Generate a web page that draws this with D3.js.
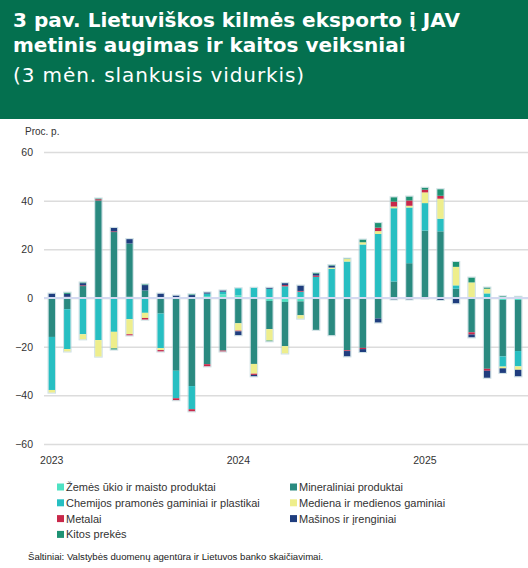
<!DOCTYPE html>
<html>
<head>
<meta charset="utf-8">
<script src="https://cdn.jsdelivr.net/npm/d3@7"></script>
<style>
  body { margin: 0; background: #fff; }
  svg { display: block; }
</style>
</head>
<body>
<div id="chart-area"></div>
<script>
/* Chart data (pp contributions, 3-month moving average) */
var months = ["2023-01","2023-02","2023-03","2023-04","2023-05","2023-06","2023-07","2023-08","2023-09","2023-10","2023-11","2023-12",
  "2024-01","2024-02","2024-03","2024-04","2024-05","2024-06","2024-07","2024-08","2024-09","2024-10","2024-11","2024-12",
  "2025-01","2025-02","2025-03","2025-04","2025-05","2025-06","2025-07"];

var zemes    = [0, 0, 0, 0, 0, 0.5, 0, 0.4, 0, 0, 0.8, 1.5, 1.1, 0, -1.2, -1.6, -1.4, 0, 0, 0, 0, 0, 0, 0, 0, 0, 0, 0.3, 0, -0.8, -0.8];
var mineral  = [-16, -4.6, 4.9, 40.1, 27.1, 21.9, 3.1, -6.4, -29.9, -36.2, -27.2, -21.6, -10.4, -27.1, -11.6, -18.2, -5.7, -13.1, -15.3, -21.5, -20.5, -8.4, 6.8, 14.3, 27.7, 27.4, 3.8, -14.1, -29.1, -23.2, -21];
var chemija  = [-21.8, -16.4, -14.9, -17.3, -13.9, -8.7, -6.1, -14.2, -11.3, -9.5, 1.0, 1.1, 2.9, 4.2, 3.8, 4.8, 2.6, 8.7, 12, 15.0, 22, 26.3, 30.1, 22.9, 11.3, 5.2, 1.4, 0, 1.9, -4.2, -6.3];
var mediena  = [-1.1, -1.0, -2.1, -6.8, -6.8, -6.2, -2.1, -0.8, 0, 0, 0, 0, -3.0, -4.0, -4.7, -3.0, -1.4, 0, 0.5, 1.0, 0.9, 1.2, 0.7, 0.7, 4.4, 8.2, 7.6, 6.1, 1.9, -0.7, -1.4];
var metalai  = [0.3, 0.5, 0.3, 0.5, 0.3, -0.5, -0.7, -0.6, -0.8, -0.9, -0.9, -0.4, -0.3, -0.5, 0, 0.5, 0.3, 0.5, 0, -0.3, -0.5, 1.4, 2.0, 2.2, 1.1, 1.2, 0, -0.9, -0.8, 0, 0];
var masinos  = [1.5, 1.2, 0.9, 0, 1.4, 1.8, 2.2, 1.4, 1.0, 1.2, 0.5, 0.5, -1.6, -0.6, 0.4, 0.8, 2.2, 0.8, 0.8, -2.2, -1.2, -1.7, -0.6, -0.6, -0.2, -0.8, -2.2, -1.2, -2.9, -1.9, -2.7];
var kitos    = [0, 0.5, 0.3, 0.3, -0.5, 0, 0.3, 0, 0, 0.3, 0, 0, 0, 0, -0.3, 0, 0, 0.3, 0.2, 0.2, 1.1, 1.9, 1.8, 1.6, 0.8, 2.7, 2.0, 2.0, 0.5, 0.7, 0.5];

var seriesNames = ["Žemės ūkio ir maisto produktai", "Mineraliniai produktai", "Chemijos pramonės gaminiai ir plastikai",
  "Mediena ir medienos gaminiai", "Metalai", "Mašinos ir įrenginiai", "Kitos prekės"];
var seriesValues = [zemes, mineral, chemija, mediena, metalai, masinos, kitos];
var seriesColors = ["#4fe2c3", "#2a8a80", "#27bfc2", "#eeee8c", "#c8284a", "#1f3d7e", "#1d9273"];

var yTicks = [-60, -40, -20, 0, 20, 40, 60];
var yearLabels = ["2023", "2024", "2025"];

/* Table for d3.stack */
var table = months.map(function(m, i) {
  var row = {month: m};
  seriesNames.forEach(function(s, j) { row[s] = seriesValues[j][i]; });
  return row;
});

var W = 528, H = 568;
var svg = d3.select("#chart-area").append("svg")
  .attr("width", W)
  .attr("height", H);

/* Header band */
svg.append("rect")
  .attr("width", W)
  .attr("height", 119)
  .attr("fill", "#04704f");

var title = svg.append("g")
  .attr("fill", "#fff")
  .attr("font-family", "DejaVu Sans, Verdana, sans-serif")
  .attr("font-size", "20px");
title.append("text").attr("x", 13).attr("y", 27).attr("font-weight", "bold")
  .text("3 pav. Lietuviškos kilmės eksporto į JAV");
title.append("text").attr("x", 13).attr("y", 52).attr("font-weight", "bold")
  .text("metinis augimas ir kaitos veiksniai");
title.append("text").attr("x", 13).attr("y", 82)
  .attr("letter-spacing", "0.9px")
  .text("(3 mėn. slankusis vidurkis)");

/* Scales */
var x = d3.scaleBand()
  .domain(months)
  .range([44, 526])
  .paddingInner(0.58)
  .paddingOuter(0.29);

var y = d3.scaleLinear()
  .domain([-60, 60])
  .range([444, 152]);

/* Gridlines + y labels */
var yAxisCall = d3.axisLeft(y)
  .tickValues(yTicks)
  .tickSize(-(W - 44))
  .tickPadding(11)
  .tickFormat(function(d) { return d < 0 ? "−" + Math.abs(d) : d; });

var yAxis = svg.append("g")
  .attr("class", "y axis")
  .attr("transform", "translate(44,0)")
  .call(yAxisCall);
yAxis.select(".domain").remove();
yAxis.selectAll(".tick line")
  .attr("stroke", "#dcdcdc")
  .attr("stroke-width", 1.5);
yAxis.selectAll(".tick text")
  .attr("fill", "#333")
  .attr("font-family", "Liberation Sans, Arial, sans-serif")
  .attr("font-size", "10.5px");

svg.append("text")
  .attr("x", 25)
  .attr("y", 135)
  .attr("fill", "#333")
  .attr("font-family", "Liberation Sans, Arial, sans-serif")
  .attr("font-size", "10px")
  .text("Proc. p.");

/* Stacked bars */
var stack = d3.stack()
  .keys(seriesNames)
  .offset(d3.stackOffsetDiverging);
var layers = stack(table);

svg.append("g")
  .selectAll("g")
  .data(layers)
  .enter().append("g")
    .attr("fill", function(d, i) { return seriesColors[i]; })
  .selectAll("rect")
  .data(function(d) { return d; })
  .enter().append("rect")
    .attr("x", function(d) { return x(d.data.month); })
    .attr("width", x.bandwidth())
    .attr("y", function(d) { return y(Math.max(d[0], d[1])); })
    .attr("height", function(d) { return Math.abs(y(d[0]) - y(d[1])); });

/* Bar outlines (soft light edge) */
svg.append("g")
  .selectAll("rect")
  .data(table)
  .enter().append("rect")
    .attr("x", function(d) { return x(d.month) - 0.5; })
    .attr("width", x.bandwidth() + 1)
    .attr("y", function(d) {
      var pos = d3.sum(seriesNames, function(s) { return Math.max(0, d[s]); });
      return y(pos) - 0.5;
    })
    .attr("height", function(d) {
      var pos = d3.sum(seriesNames, function(s) { return Math.max(0, d[s]); });
      var neg = d3.sum(seriesNames, function(s) { return Math.min(0, d[s]); });
      return y(neg) - y(pos) + 1;
    })
    .attr("fill", "none")
    .attr("stroke", "#b9d3d8")
    .attr("stroke-opacity", 0.7)
    .attr("stroke-width", 1);

/* Zero line */
svg.append("line")
  .attr("x1", 44)
  .attr("x2", W)
  .attr("y1", y(0))
  .attr("y2", y(0))
  .attr("stroke", "#d3d9f0")
  .attr("stroke-width", 2);

/* X labels (January of each year) */
svg.append("g")
  .selectAll("text")
  .data(yearLabels)
  .enter().append("text")
    .attr("x", function(d) { return x(d + "-01") + x.bandwidth() / 2; })
    .attr("y", 464)
    .attr("text-anchor", "middle")
    .attr("fill", "#333")
    .attr("font-family", "Liberation Sans, Arial, sans-serif")
    .attr("font-size", "10.5px")
    .text(function(d) { return d; });

/* Legend */
var legend = svg.append("g")
  .attr("font-family", "Liberation Sans, Arial, sans-serif")
  .attr("font-size", "11px")
  .attr("fill", "#333");

seriesNames.forEach(function(s, i) {
  var col = i % 2, row = Math.floor(i / 2);
  var legendRow = legend.append("g")
    .attr("transform", "translate(" + (57 + col * 233) + "," + (487 + row * 15.8) + ")");
  legendRow.append("rect")
    .attr("y", -3.5)
    .attr("width", 7)
    .attr("height", 7)
    .attr("fill", seriesColors[i]);
  legendRow.append("text")
    .attr("x", 9)
    .attr("y", 4)
    .text(s);
});

/* Source */
svg.append("text")
  .attr("x", 28)
  .attr("y", 560)
  .attr("fill", "#222")
  .attr("font-family", "Liberation Sans, Arial, sans-serif")
  .attr("font-size", "9.6px")
  .text("Šaltiniai: Valstybės duomenų agentūra ir Lietuvos banko skaičiavimai.");
</script>
</body>
</html>
